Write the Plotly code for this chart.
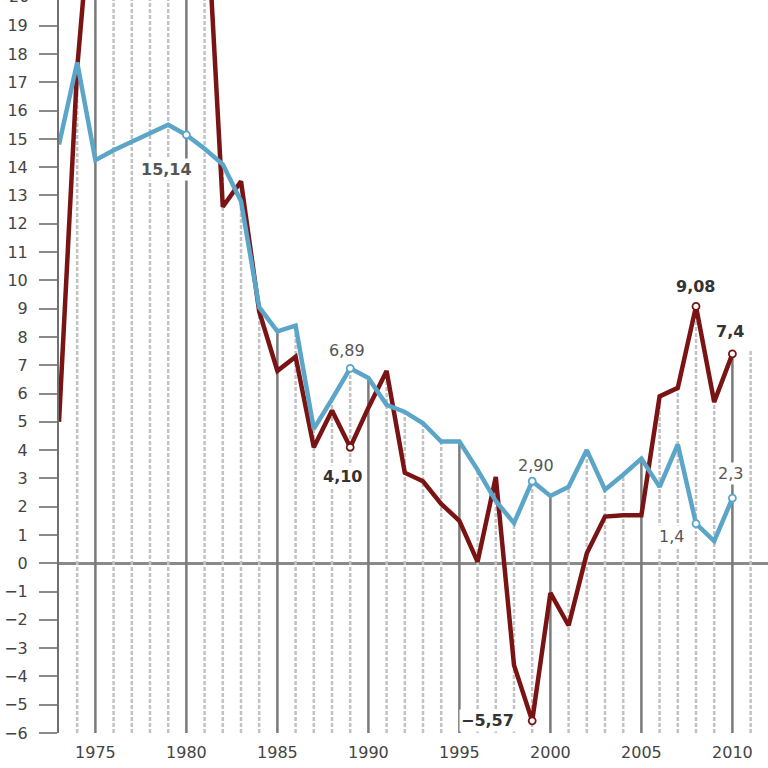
import plotly.graph_objects as go

years = list(range(1973, 2011))
red = [5.0, 17.5, 25.0, 26.0, 28.0, 27.0, 26.0, 25.0, 24.5, 12.6,
       13.5, 8.9, 6.8, 7.3, 4.1, 5.4, 4.10, 5.5, 6.8, 3.2,
       2.9, 2.1, 1.5, 0.05, 3.05, -3.6, -5.57, -1.05, -2.2, 0.35,
       1.65, 1.7, 1.7, 5.9, 6.2, 9.08, 5.7, 7.4]
blue = [14.8, 17.7, 14.25, 14.6, 14.9, 15.2, 15.5, 15.14, 14.65, 14.1,
        12.8, 9.05, 8.2, 8.4, 4.75, 5.8, 6.89, 6.55, 5.6, 5.35,
        4.95, 4.3, 4.3, 3.3, 2.2, 1.42, 2.90, 2.38, 2.7, 4.0,
        2.6, 3.13, 3.7, 2.7, 4.2, 1.4, 0.78, 2.3]
extra_year = 2011
extra_top = 7.5
y_ticks = list(range(-6, 20))
x_ticks = [1975, 1980, 1985, 1990, 1995, 2000, 2005, 2010]

labels = [
    (1980, "blue", "15,14"),
    (1989, "blue", "6,89"),
    (1989, "red", "4,10"),
    (1999, "blue", "2,90"),
    (1999, "red", "\u22125,57"),
    (2008, "red", "9,08"),
    (2010, "red", "7,4"),
    (2008, "blue", "1,4"),
    (2010, "blue", "2,3"),
]
label_offsets = {
    "15,14": (-20, -35), "6,89": (-3, 18), "4,10": (-8, -29), "2,90": (4, 16),
    "\u22125,57": (-16, 0), "9,08": (-1, 20), "7,4": (-2, 22), "1,4": (-25, -13),
    "2,3": (-2, 25),
}

RED = "#7A1414"
BLUE = "#5AA5C8"
Y_MIN = -6
Y_MAX = 19.91
FONT = "DejaVu Sans"

fig = go.Figure()

solid_x, solid_y, dash_x, dash_y = [], [], [], []
tops = {yr: max(r, b) for yr, r, b in zip(years, red, blue)}
tops[extra_year] = extra_top
for yr, top in tops.items():
    if yr == years[0]:
        continue
    if yr % 5 == 0:
        solid_x += [yr, yr, None]
        solid_y += [Y_MIN, top, None]
    else:
        dash_x += [yr, yr, None]
        dash_y += [Y_MIN, top, None]

fig.add_trace(go.Scatter(x=dash_x, y=dash_y, mode="lines", hoverinfo="skip",
                         line=dict(color="#C2C2C2", width=2.5, dash="4px,2px"),
                         showlegend=False))
fig.add_trace(go.Scatter(x=solid_x, y=solid_y, mode="lines", hoverinfo="skip",
                         line=dict(color="#7A7A7A", width=2.5), showlegend=False))

fig.add_trace(go.Scatter(x=years, y=red, mode="lines",
                         line=dict(color=RED, width=4.5), showlegend=False))
fig.add_trace(go.Scatter(x=years, y=blue, mode="lines",
                         line=dict(color=BLUE, width=4.5), showlegend=False))

series = {"red": (red, RED), "blue": (blue, BLUE)}
for s in ("red", "blue"):
    vals, col = series[s]
    mx = [yr for yr, sr, t in labels if sr == s]
    my = [vals[years.index(yr)] for yr in mx]
    fig.add_trace(go.Scatter(x=mx, y=my, mode="markers", showlegend=False,
                             marker=dict(size=7, color="white",
                                         line=dict(color=col, width=1.8))))

for yr, s, txt in labels:
    vals, col = series[s]
    xs, ys = label_offsets[txt]
    bold = s == "red" or txt == "15,14"
    fig.add_annotation(
        x=yr, y=vals[years.index(yr)], text=f"<b>{txt}</b>" if bold else txt,
        showarrow=False, xshift=xs, yshift=ys,
        xanchor="right" if txt.startswith("\u2212") else "center",
        font=dict(family=FONT, size=16,
                  color="#333333" if s == "red" else "#555555"),
        bgcolor="white", borderpad=1,
    )

fig.add_annotation(x=0, xref="paper", xanchor="right", xshift=-28,
                   y=1.0, yref="paper", yanchor="middle", yshift=4,
                   text="20", showarrow=False,
                   font=dict(family=FONT, size=16, color="#444444"))

fig.update_layout(
    width=768, height=768,
    margin=dict(l=59, r=0, t=0, b=35),
    plot_bgcolor="white", paper_bgcolor="white",
    xaxis=dict(range=[1973, 1973 + 709 / 18.2], tickvals=x_ticks,
               showgrid=False, zeroline=False, showline=False, ticks="",
               tickfont=dict(family=FONT, size=16, color="#444444"),
               ticklabelstandoff=8, fixedrange=True),
    yaxis=dict(range=[Y_MIN, Y_MAX], tickvals=y_ticks,
               showgrid=False, zeroline=True, zerolinecolor="#8A8A8A",
               zerolinewidth=3, showline=True, linecolor="#707070", linewidth=2,
               ticks="outside", ticklen=18, tickwidth=2, tickcolor="#8A8A8A",
               tickfont=dict(family=FONT, size=16, color="#444444"),
               ticklabelstandoff=8, fixedrange=True),
)

fig.write_html("out.html", config={"displayModeBar": False},
               post_script="document.body.style.margin='0';document.body.style.padding='0';")
